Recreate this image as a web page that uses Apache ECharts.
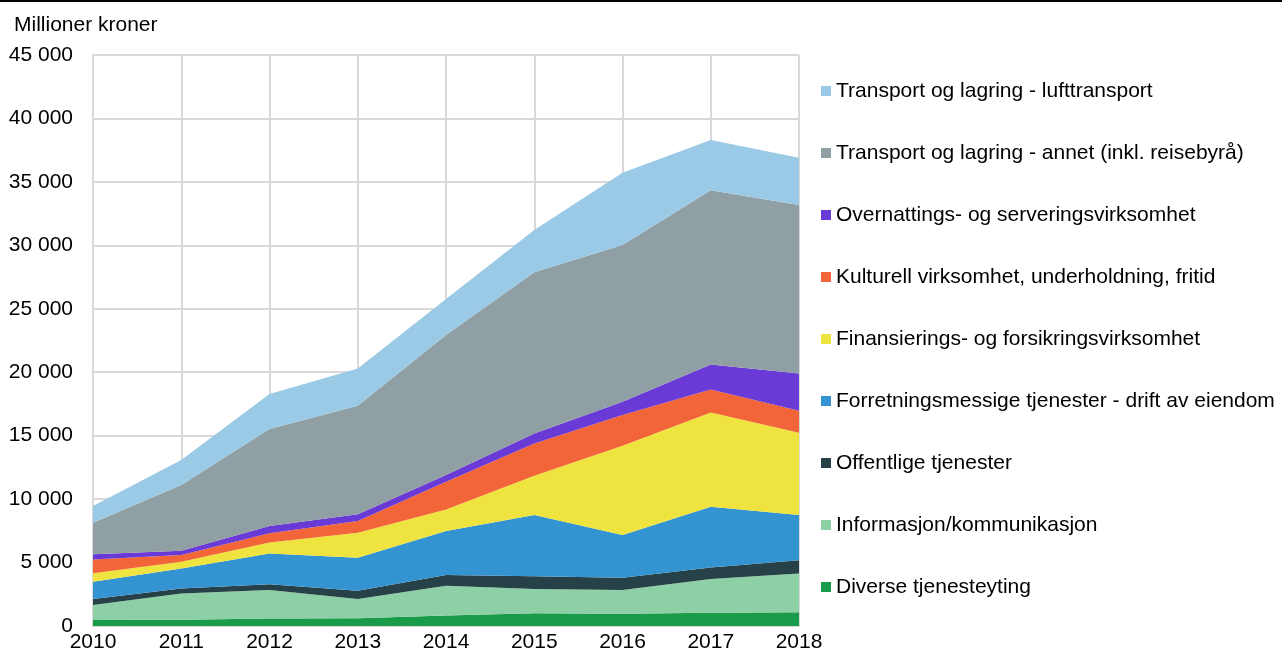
<!DOCTYPE html>
<html>
<head>
<meta charset="utf-8">
<script src="https://cdn.jsdelivr.net/npm/echarts@6/dist/echarts.min.js"></script>
<style>
  html, body { margin: 0; padding: 0; background: #fff; }
  #chart { width: 1282px; height: 653px; }
</style>
</head>
<body>
<div id="chart"></div>
<script>
// år på x-aksen
const years = ['2010', '2011', '2012', '2013', '2014', '2015', '2016', '2017', '2018'];

// verdier per næring, millioner kroner (lest av figuren)
const diverse      = [480, 500, 590, 620, 830, 1010, 960, 1040, 1090];
const informasjon  = [1170, 2070, 2240, 1500, 2340, 1900, 1870, 2660, 3050];
const offentlige   = [470, 390, 470, 660, 840, 1020, 970, 920, 1050];
const forretning   = [1370, 1580, 2420, 2600, 3470, 4810, 3370, 4780, 3550];
const finans       = [660, 520, 870, 1970, 1710, 3100, 7030, 7430, 6490];
const kulturell    = [1100, 530, 710, 920, 2180, 2550, 2420, 1810, 1730];
const overnatting  = [400, 340, 580, 530, 530, 790, 1050, 1970, 2940];
const transAnnet   = [2490, 5180, 7640, 8560, 11030, 12690, 12350, 13740, 13270];
const transLuft    = [1310, 1970, 2760, 2940, 2840, 3330, 5700, 3950, 3730];

// nederst -> øverst i stabelen
const names = [
  'Diverse tjenesteyting',
  'Informasjon/kommunikasjon',
  'Offentlige tjenester',
  'Forretningsmessige tjenester - drift av eiendom',
  'Finansierings- og forsikringsvirksomhet',
  'Kulturell virksomhet, underholdning, fritid',
  'Overnattings- og serveringsvirksomhet',
  'Transport og lagring - annet (inkl. reisebyrå)',
  'Transport og lagring - lufttransport'
];
const values = [diverse, informasjon, offentlige, forretning, finans, kulturell, overnatting, transAnnet, transLuft];
const colors = ['#1a9b4a', '#8ed0a5', '#264148', '#3494d2', '#efe33f', '#f26539', '#6a3ad6', '#8f9fa3', '#9acae6'];

const fontFam = '"Liberation Sans", Arial, sans-serif';

const series = names.map((n, i) => ({
  name: n,
  type: 'line',
  stack: 'total',
  data: values[i],
  symbol: 'none',
  lineStyle: { width: 0 },
  areaStyle: { color: colors[i], opacity: 1 },
  itemStyle: { color: colors[i] },
  emphasis: { disabled: true }
}));

const fmt = v => String(v).replace(/\B(?=(\d{3})+(?!\d))/g, ' ');

const option = {
  animation: false,
  textStyle: { fontFamily: fontFam },
  title: {
    text: 'Millioner kroner',
    left: 14, top: 15, padding: 0,
    textStyle: { fontFamily: fontFam, fontSize: 21, fontWeight: 'normal', color: '#000' }
  },
  graphic: [{
    type: 'rect', left: 0, top: 0,
    shape: { width: 1282, height: 2 },
    style: { fill: '#000' }
  }],
  legend: {
    orient: 'vertical',
    left: 821, top: 80, padding: 0,
    itemWidth: 10, itemHeight: 10, itemGap: 40,
    icon: 'rect',
    data: names.slice().reverse(),
    textStyle: { fontFamily: fontFam, fontSize: 21, color: '#000', lineHeight: 22 },
    selectedMode: false
  },
  grid: { left: 93, right: 483, top: 55, bottom: 27 },
  xAxis: {
    type: 'category',
    data: years,
    boundaryGap: false,
    axisLine: { lineStyle: { color: '#d9d9d9', width: 2 } },
    axisTick: { show: false },
    axisLabel: { color: '#000', fontSize: 21, margin: 6, fontFamily: fontFam },
    splitLine: { show: true, lineStyle: { color: '#d9d9d9', width: 2 } }
  },
  yAxis: {
    type: 'value',
    min: 0, max: 45000, interval: 5000,
    axisLine: { show: true, lineStyle: { color: '#d9d9d9', width: 2 } },
    axisTick: { show: false },
    axisLabel: { color: '#000', fontSize: 21, margin: 20, fontFamily: fontFam, formatter: fmt },
    splitLine: { show: true, lineStyle: { color: '#d9d9d9', width: 2 } }
  },
  series: series
};

const chart = echarts.init(document.getElementById('chart'));
chart.setOption(option);
</script>
</body>
</html>
